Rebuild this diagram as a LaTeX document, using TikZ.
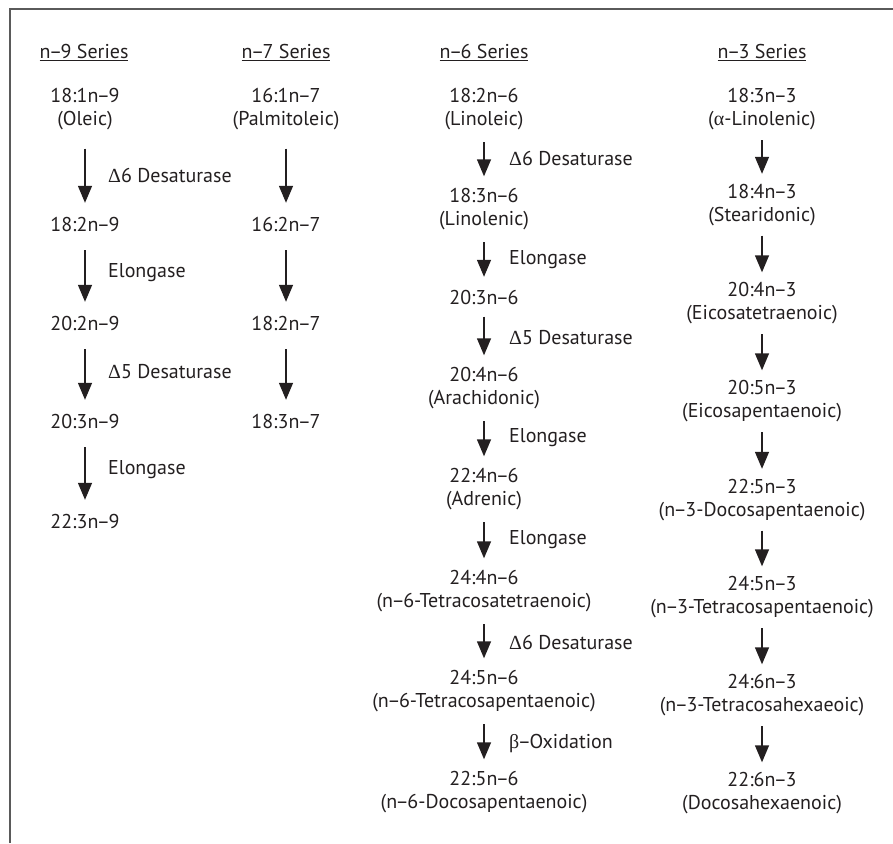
\documentclass[tikz,border=0pt]{standalone}
\usepackage{fontspec}
\setmainfont{PT Sans}
\newfontfamily\grk{Liberation Serif}
\usetikzlibrary{arrows.meta}
\definecolor{ink}{HTML}{231F20}
\definecolor{framegray}{HTML}{5A5A5A}
\newcommand\edsh{\kern-1.5pt–\kern-1.5pt}
\begin{document}
\begin{tikzpicture}[x=1pt,y=-1pt,
  every node/.style={font=\fontsize{20}{23}\selectfont, inner sep=0pt, align=center, text=ink},
  two/.style={minimum height=48pt},
  one/.style={minimum height=22pt},
  lab/.style={anchor=west},
  arr/.style={-{Triangle[width=14pt,length=17pt]}, line width=1.4pt, draw=ink},
  longarr/.style={arr, shorten <=15pt, shorten >=10pt},
  shortarr/.style={arr, shorten <=8.5pt, shorten >=9pt},
  thrarr/.style={arr, shorten <=6.5pt, shorten >=7pt},
  frameline/.style={draw=framegray, line width=2pt}
]
\useasboundingbox (0,0) rectangle (893,843);
% frame
\coordinate (fbl) at (9.5,843);
\coordinate (ftl) at (9.5,9.5);
\coordinate (ftr) at (893,9.5);
\draw[frameline] (fbl) -- (ftl) -- (ftr);

% headers
\node (h9) at (84,53) {\underline{n\edsh 9 Series}};
\node (h7) at (286,53) {\underline{n\edsh 7 Series}};
\node (h6) at (484,53) {\underline{n\edsh 6 Series}};
\node (h3) at (762,53) {\underline{n\edsh 3 Series}};

% n-9 series
\node[two] (a1) at (85,109.5) {18:1n\edsh 9\\(Oleic)};
\node[one] (a2) at (85,224) {18:2n\edsh 9};
\node[one] (a3) at (85,323) {20:2n\edsh 9};
\node[one] (a4) at (85,421) {20:3n\edsh 9};
\node[one] (a5) at (85,521) {22:3n\edsh 9};
\draw[longarr] (a1) -- (a2);
\draw[longarr] (a2) -- (a3);
\draw[longarr] (a3) -- (a4);
\draw[longarr] (a4) -- (a5);
\node[lab] (la1) at (108,175) {{\grk Δ}6 Desaturase};
\node[lab] (la2) at (108,273) {Elongase};
\node[lab] (la3) at (108,372) {{\grk Δ}5 Desaturase};
\node[lab] (la4) at (108,470) {Elongase};

% n-7 series
\node[two] (b1) at (286,109.5) {16:1n\edsh 7\\(Palmitoleic)};
\node[one] (b2) at (286,224) {16:2n\edsh 7};
\node[one] (b3) at (286,323) {18:2n\edsh 7};
\node[one] (b4) at (286,421) {18:3n\edsh 7};
\draw[longarr] (b1) -- (b2);
\draw[longarr] (b2) -- (b3);
\draw[longarr] (b3) -- (b4);

% n-6 series
\node[two] (c1) at (484,109.5) {18:2n\edsh 6\\(Linoleic)};
\node[two] (c2) at (484,209.5) {18:3n\edsh 6\\(Linolenic)};
\node[one] (c3) at (484,297) {20:3n\edsh 6};
\node[two] (c4) at (484,388.5) {20:4n\edsh 6\\(Arachidonic)};
\node[two] (c5) at (484,489.5) {22:4n\edsh 6\\(Adrenic)};
\node[two] (c6) at (484,591.5) {24:4n\edsh 6\\(n\edsh 6-Tetracosatetraenoic)};
\node[two] (c7) at (484,691.5) {24:5n\edsh 6\\(n\edsh 6-Tetracosapentaenoic)};
\node[two] (c8) at (484,792.5) {22:5n\edsh 6\\(n\edsh 6-Docosapentaenoic)};
\draw[shortarr] (c1) -- (c2);
\draw[shortarr] (c2) -- (c3);
\draw[shortarr] (c3) -- (c4);
\draw[shortarr] (c4) -- (c5);
\draw[shortarr] (c5) -- (c6);
\draw[shortarr] (c6) -- (c7);
\draw[shortarr] (c7) -- (c8);
\node[lab] (lc1) at (509,158) {{\grk Δ}6 Desaturase};
\node[lab] (lc2) at (509,260) {Elongase};
\node[lab] (lc3) at (509,338) {{\grk Δ}5 Desaturase};
\node[lab] (lc4) at (509,438) {Elongase};
\node[lab] (lc5) at (509,540) {Elongase};
\node[lab] (lc6) at (509,642) {{\grk Δ}6 Desaturase};
\node[lab] (lc7) at (509,743) {{\grk β}\edsh Oxidation};

% n-3 series
\node[two] (d1) at (762,109.5) {18:3n\edsh 3\\({\grk α}-Linolenic)};
\node[two] (d2) at (762,205) {18:4n\edsh 3\\(Stearidonic)};
\node[two] (d3) at (762,303.5) {20:4n\edsh 3\\(Eicosatetraenoic)};
\node[two] (d4) at (762,401.5) {20:5n\edsh 3\\(Eicosapentaenoic)};
\node[two] (d5) at (762,500) {22:5n\edsh 3\\(n\edsh 3-Docosapentaenoic)};
\node[two] (d6) at (762,597.5) {24:5n\edsh 3\\(n\edsh 3-Tetracosapentaenoic)};
\node[two] (d7) at (762,695.5) {24:6n\edsh 3\\(n\edsh 3-Tetracosahexaeoic)};
\node[two] (d8) at (762,793.5) {22:6n\edsh 3\\(Docosahexaenoic)};
\draw[thrarr] (d1) -- (d2);
\draw[thrarr] (d2) -- (d3);
\draw[thrarr] (d3) -- (d4);
\draw[thrarr] (d4) -- (d5);
\draw[thrarr] (d5) -- (d6);
\draw[thrarr] (d6) -- (d7);
\draw[thrarr] (d7) -- (d8);
\end{tikzpicture}
\end{document}
